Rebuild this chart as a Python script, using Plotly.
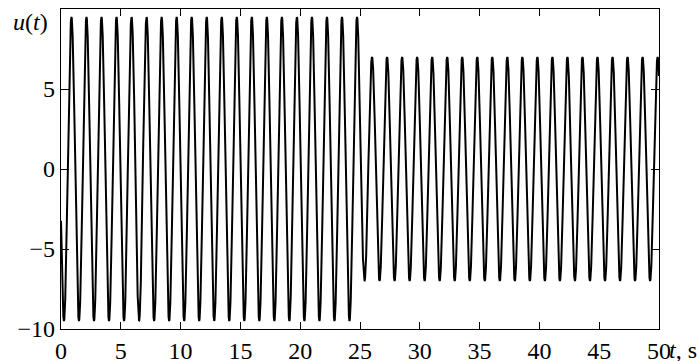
import numpy as np
import plotly.graph_objects as go

# Signal parameters
seg_start = [0.0, 25.19]     # s, start of each amplitude segment
seg_amp = [9.5, 7.0]         # amplitude in each segment
omega = [5.0]                # rad/s (period ~1.26 s)
phase = [3.49]               # rad

x_ticks = [0, 5, 10, 15, 20, 25, 30, 35, 40, 45, 50]
y_ticks = [-10, -5, 0, 5]

t = np.linspace(0, 50, 12001)
amp = np.where(t < seg_start[1], seg_amp[0], seg_amp[1])
u = amp * np.sin(omega[0] * t + phase[0])

fig = go.Figure()
fig.add_trace(go.Scatter(x=t, y=u, mode="lines",
                         line=dict(color="black", width=2), hoverinfo="skip"))

FAM = "Liberation Serif, Times New Roman, serif"
SZ = 24
font = dict(family=FAM, size=SZ, color="black")
fig.update_layout(
    width=697, height=361,
    margin=dict(l=61, r=38, t=9, b=32),
    paper_bgcolor="white", plot_bgcolor="white",
    showlegend=False,
    font=font,
    xaxis=dict(range=[0, 50], tickvals=x_ticks, ticks="inside", ticklen=7,
               tickfont=font,
               tickcolor="black", showline=True, linecolor="black", linewidth=1.2,
               mirror="ticks", showgrid=False, zeroline=False, automargin=False),
    yaxis=dict(range=[-10, 10], tickvals=y_ticks, ticks="inside", ticklen=8,
               tickfont=font,
               tickcolor="black", showline=True, linecolor="black", linewidth=1.2,
               mirror="ticks", showgrid=False, zeroline=False, automargin=False),
    annotations=[
        dict(text="<i>u</i>(<i>t</i>)", xref="paper", yref="paper", x=0, y=1,
             xanchor="right", yanchor="middle", xshift=-11, yshift=-13,
             showarrow=False, font=font),
        dict(text="<i>t</i>, s", xref="paper", yref="paper", x=1, y=0,
             xanchor="left", yanchor="middle", xshift=8, yshift=-21,
             showarrow=False, font=font),
    ],
)

html = fig.to_html(include_plotlyjs=True, full_html=True,
                   config={"displayModeBar": False, "staticPlot": True})
html = html.replace("<body>", '<body style="margin:0;padding:0;overflow:hidden">', 1)
with open("out.html", "w", encoding="utf-8") as f:
    f.write(html)
# equivalent output to fig.write_html("out.html") with body margin removed
